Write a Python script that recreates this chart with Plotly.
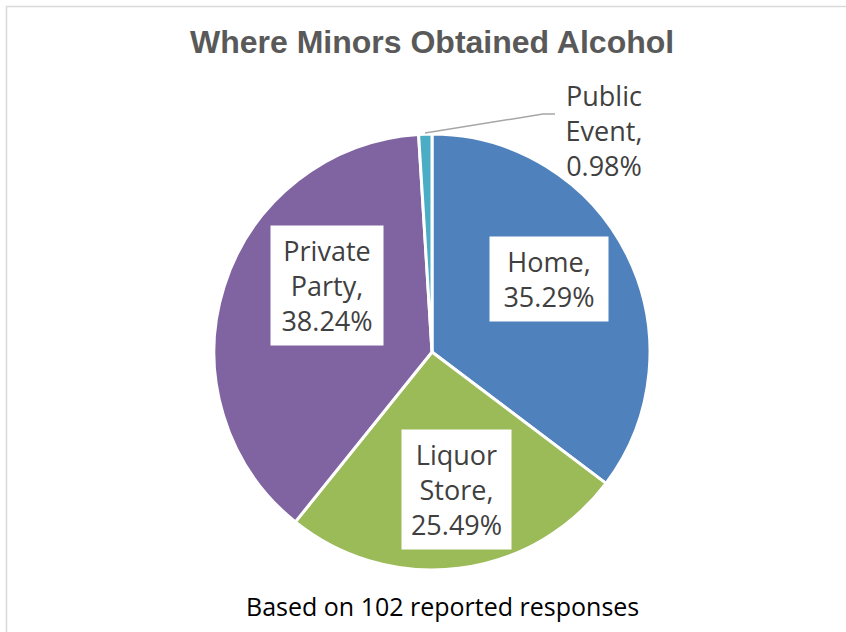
import plotly.graph_objects as go

labels = ["Home", "Liquor Store", "Private Party", "Public Event"]
values = [35.29, 25.49, 38.24, 0.98]
colors = ["#4F81BD", "#9BBB59", "#8064A2", "#4BACC6"]
label_text = ["Home,<br>35.29%", "Liquor<br>Store,<br>25.49%", "Private<br>Party,<br>38.24%", "Public<br>Event,<br>0.98%"]

W, H = 846, 632


def px(x):
    return x / W


def py(y):
    return 1 - y / H


cx, cy, R = 432, 352, 218

fig = go.Figure()
fig.add_trace(go.Pie(
    labels=labels, values=values, sort=False, direction="clockwise", rotation=0,
    marker=dict(colors=colors, line=dict(color="white", width=3)),
    textinfo="none", hoverinfo="label+percent", showlegend=False,
    domain=dict(x=[px(cx - R), px(cx + R)], y=[py(cy + R), py(cy - R)]),
))

# label box centres and widths (layout, reference pixels)
label_pos = [(549, 279), (456, 489), (327, 285), (604, 130)]
label_w = [106, 97, 100, 90]
label_box = [True, True, True, False]
font = dict(family="Open Sans, Noto Sans, sans-serif", size=27, color="#404040")
for i in range(len(values)):
    x, y = label_pos[i]
    fig.add_annotation(x=px(x), y=py(y), xref="paper", yref="paper",
                       xanchor="center", yanchor="middle",
                       text=label_text[i], showarrow=False, font=font,
                       bgcolor="white" if label_box[i] else "rgba(0,0,0,0)",
                       borderpad=6, width=label_w[i], align="center")

# Public Event leader line
fig.add_shape(type="path", xref="paper", yref="paper",
              path=f"M {px(425)} {py(133)} L {px(543)} {py(114)} L {px(555)} {py(114)}",
              line=dict(color="#A6A6A6", width=1.5))

# chart border
fig.add_shape(type="rect", xref="paper", yref="paper",
              x0=px(6.5), x1=1.2, y0=-0.2, y1=py(6.5),
              line=dict(color="#D9D9D9", width=1.5), layer="below")

fig.add_annotation(x=px(432), y=py(42), xref="paper", yref="paper",
                   xanchor="center", yanchor="middle",
                   text="<b>Where Minors Obtained Alcohol</b>", showarrow=False,
                   font=dict(family="Liberation Sans, Arial, sans-serif", size=32, color="#595959"))
fig.add_annotation(x=px(442), y=py(606), xref="paper", yref="paper",
                   xanchor="center", yanchor="middle",
                   text="Based on 102 reported responses", showarrow=False,
                   font=dict(family="Open Sans, Noto Sans, sans-serif", size=25, color="#000000"))

fig.update_layout(width=W, height=H, margin=dict(l=0, r=0, t=0, b=0),
                  paper_bgcolor="white", plot_bgcolor="white")
fig.write_html("out.html", config={"displayModeBar": False},
               post_script="document.body.style.margin='0';document.body.style.overflow='hidden';")
